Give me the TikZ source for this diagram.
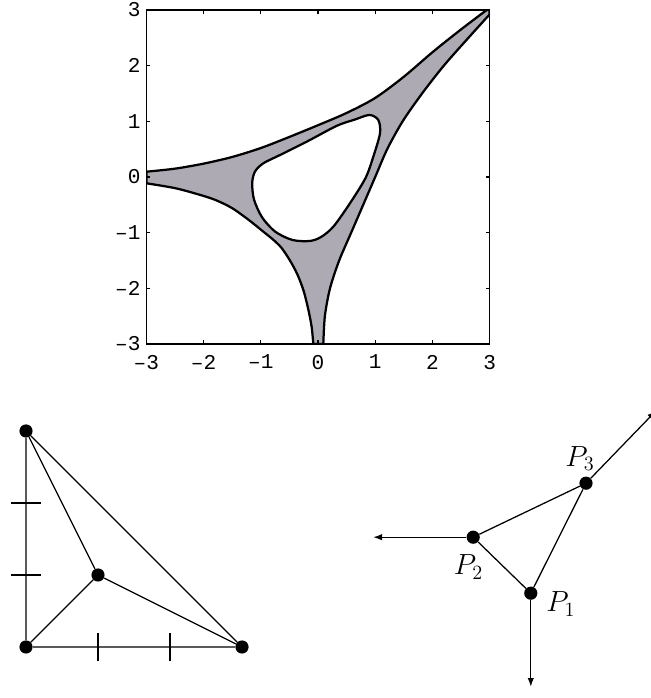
\documentclass[tikz,border=0pt]{standalone}
\usepackage{fontspec}
\usepackage{tikz}
\usetikzlibrary{arrows.meta,positioning}
\newfontfamily\plotfont{Liberation Mono}
\definecolor{amoebagray}{RGB}{174,170,180}
\newcommand{\plotnum}[1]{\ifnum#1<0 \textendash\number\numexpr-#1\relax\else#1\fi}

\begin{document}
\begin{tikzpicture}[font=\small,
  dot/.style={circle, fill=black, inner sep=0pt, minimum size=0.33cm},
  edge/.style={line width=0.9pt},
  ray/.style={line width=0.9pt, -{Latex[length=2.2mm,width=1.6mm]}},
  ticklab/.style={font=\fontsize{15}{17}\plotfont, inner sep=2pt},
  ptlab/.style={font=\fontsize{20}{24}\selectfont}]
\useasboundingbox (0,0) rectangle (16.275,17.45);

\begin{scope}[shift={(7.95,13.025)}, x=1.43cm, y=1.392cm]
\begin{scope}
\clip (-3,-3) rectangle (3,3);
\filldraw[fill=amoebagray, draw=black, line width=1.6pt, even odd rule]
  plot[smooth] coordinates {(-3,0.095) (-2.5,0.15) (-2,0.24) (-1.5,0.36) (-1,0.52)
    (-0.5,0.72) (0,0.93) (0.5,1.15) (1,1.42) (1.5,1.8) (2,2.24) (2.5,2.65) (2.95,3)}
  -- (3,3)
  -- plot[smooth] coordinates {(3,2.92) (2.63,2.5) (2.2,2) (1.82,1.5) (1.48,1)
    (1.21,0.5) (1,0) (0.79,-0.5) (0.58,-1) (0.37,-1.5) (0.21,-2) (0.12,-2.5) (0.093,-3)}
  -- plot[smooth] coordinates {(-0.082,-3) (-0.11,-2.7) (-0.165,-2.4) (-0.25,-2.05)
    (-0.36,-1.75) (-0.49,-1.5) (-0.64,-1.27) (-0.79,-1.12) (-0.97,-0.97) (-1.2,-0.78)
    (-1.5,-0.56) (-1.8,-0.41) (-2.1,-0.31) (-2.5,-0.2) (-3,-0.113)}
  -- cycle
  plot[smooth cycle] coordinates {(-1.15,-0.1) (-1.12,-0.4) (-0.98,-0.72) (-0.75,-0.98)
    (-0.45,-1.13) (-0.15,-1.15) (0.05,-1.08) (0.27,-0.89) (0.56,-0.47) (0.83,-0.02)
    (0.967,0.365) (1.084,0.785) (1.054,1.024) (0.9,1.114) (0.64,1.03) (0.33,0.92)
    (-0.198,0.634) (-0.664,0.395) (-0.956,0.246) (-1.1,0.1)};
\end{scope}
\draw[line width=1.1pt] (-3,-3) rectangle (3,3);
\foreach \k in {-2,...,2} {
  \draw[line width=0.8pt] (\k,-3) -- ++(0,0.07) (\k,3) -- ++(0,-0.07);
  \draw[line width=0.8pt] (-3,\k) -- ++(0.07,0) (3,\k) -- ++(-0.07,0);
}
\foreach \k in {-3,...,3} {
  \node[ticklab, anchor=north] (xt\k) at (\k,-3.14) {\plotnum{\k}};
  \node[ticklab, anchor=east] (yt\k) at (-3.05,\k) {\plotnum{\k}};
}
\end{scope}

\begin{scope}[shift={(0.65,1.275)}, x=1.8cm, y=1.8cm]
\node[dot] (v00) at (0,0) {};
\node[dot] (v30) at (3,0) {};
\node[dot] (v03) at (0,3) {};
\node[dot] (v11) at (1,1) {};
\draw[edge] (v00) -- (v30) -- (v03) -- (v00);
\draw[edge] (v11) -- (v00) (v11) -- (v30) (v11) -- (v03);
\foreach \k in {1,2} {
  \draw[edge] (\k,-0.2) -- (\k,0.2);
  \draw[edge] (-0.21,\k) -- (0.21,\k);
}
\end{scope}

\node[dot] (P1) at (13.27,2.62) {};
\node[dot] (P2) at (11.83,4.02) {};
\node[dot] (P3) at (14.65,5.37) {};
\coordinate (left) at (9.33,4.02);
\coordinate (down) at (13.27,0.28);
\coordinate (upright) at (16.4,7.18);
\draw[edge] (P1) -- (P2) -- (P3) -- (P1);
\draw[ray] (P2) -- (left);
\draw[ray] (P1) -- (down);
\draw[ray] (P3) -- (upright);
\node[ptlab] (lP3) at ([shift={(-0.15,0.62)}]P3) {$P_3$};
\node[ptlab] (lP2) at ([shift={(-0.12,-0.75)}]P2) {$P_2$};
\node[ptlab] (lP1) at ([shift={(0.75,-0.27)}]P1) {$P_1$};
\end{tikzpicture}
\end{document}
